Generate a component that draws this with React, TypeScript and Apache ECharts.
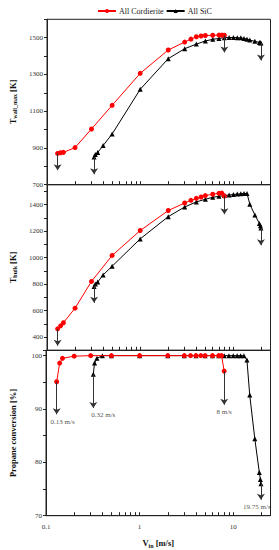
import React, { useEffect, useRef } from 'react';
import * as echarts from 'echarts';

// ---- Data ----
const xCordierite = [0.13, 0.14, 0.15, 0.2, 0.3, 0.5, 1, 2, 3, 3.5, 4, 4.5, 5, 6, 7, 7.5, 8];
const wallCordierite = [870, 874, 876, 902, 1003, 1132, 1306, 1433, 1476, 1492, 1505, 1509, 1512, 1513, 1514, 1514, 1513];
const bulkCordierite = [462, 485, 508, 618, 820, 1016, 1204, 1355, 1412, 1432, 1447, 1457, 1468, 1478, 1485, 1487, 1465];
const convCordierite = [95.1, 98.6, 99.5, 99.9, 100, 100, 100, 100, 100, 100, 100, 100, 100, 100, 100, 100, 97.1];

const xSiC = [0.32, 0.33, 0.35, 0.4, 0.5, 1, 2, 3, 4, 5, 6, 7, 8, 9, 10, 11, 12, 13, 14, 15, 17, 19, 19.5, 19.75];
const wallSiC = [851, 864, 875, 913, 976, 1219, 1386, 1440, 1465, 1482, 1491, 1496, 1500, 1501, 1501, 1500, 1499, 1496, 1492, 1487, 1480, 1474, 1472, 1471];
const bulkSiC = [782, 800, 815, 869, 935, 1141, 1309, 1382, 1420, 1440, 1455, 1462, 1468, 1472, 1476, 1479, 1481, 1483, 1484, 1402, 1322, 1257, 1240, 1224];
const convSiC = [96.5, 98.6, 99.5, 100, 100, 100, 100, 100, 100, 100, 100, 100, 100, 100, 100, 100, 100, 100, 99.2, 92.6, 84.4, 78.1, 76.8, 76.0];

const arrowX = [0.13, 0.32, 8, 19.75];
const wallArrowFrom = [870, 851, 1513, 1471];
const wallArrowTo = [779, 757, 1420, 1376];
const bulkArrowFrom = [462, 782, 1465, 1224];
const bulkArrowTo = [335, 658, 1327, 1093];
const convArrowFrom = [95.1, 96.5, 97.1, 76.0];
const convArrowTo = [89.0, 90.2, 90.8, 73.0];
const arrowLabels = ['0.13 m/s', '0.32 m/s', '8 m/s', '19.75 m/s'];

const xMajorTicks = [0.1, 1, 10];
const xAllTicks = [0.1, 0.2, 0.3, 0.4, 0.5, 0.6, 0.7, 0.8, 0.9, 1, 2, 3, 4, 5, 6, 7, 8, 9, 10, 20];

const FONT = '"Liberation Serif", "Times New Roman", serif';

export default function App() {
  const ref = useRef<HTMLDivElement>(null);
  useEffect(() => {
    document.body.style.margin = '0';
    const chart = echarts.init(ref.current!, null, { renderer: 'svg' });

    const labelDx = [6, 10, 0, -4];
    const grids = [
      { left: 40, right: 8.5, top: 19.3, height: 165.4 },
      { left: 40, right: 8.5, top: 184.7, height: 165.6 },
      { left: 40, right: 8.5, top: 350.3, height: 165.4 },
    ].map((g) => ({ ...g, show: true, borderColor: '#222', borderWidth: 1, backgroundColor: 'transparent' }));

    const xAxes = [0, 1, 2].map((i) => ({
      type: 'log',
      logBase: 10,
      gridIndex: i,
      min: 0.1,
      max: 25,
      axisLine: { show: true, lineStyle: { color: '#222', width: 1 } },
      axisTick: { show: true, inside: true, length: 3.5, lineStyle: { color: '#222' }, customValues: xAllTicks },
      axisLabel: {
        show: i === 2,
        customValues: xMajorTicks,
        fontFamily: FONT,
        fontSize: 7,
        color: '#333',
        margin: 8,
        formatter: (v: number) => String(v),
      },
      splitLine: { show: false },
      name: i === 2 ? '{m|V}{s|in}{m| [m/s]}' : '',
      nameLocation: 'middle',
      nameGap: 22,
      nameTextStyle: {
        fontFamily: FONT,
        rich: {
          m: { fontSize: 8.5, fontWeight: 'bold', fontFamily: FONT, color: '#111' },
          s: { fontSize: 6, fontWeight: 'bold', fontFamily: FONT, color: '#111', padding: [5, 0, 0, 0] },
        },
      },
    }));

    const yCommon = {
      type: 'value',
      nameLocation: 'middle',
      nameGap: 29,
      axisLine: { show: true, lineStyle: { color: '#222', width: 1 } },
      axisTick: { show: true, inside: false, length: 3, lineStyle: { color: '#222' } },
      splitLine: { show: false },
      nameTextStyle: {
        fontFamily: FONT,
        rich: {
          m: { fontSize: 8.5, fontWeight: 'bold', fontFamily: FONT, color: '#111' },
          s: { fontSize: 6, fontWeight: 'bold', fontFamily: FONT, color: '#111', padding: [5, 0, 0, 0] },
        },
      },
    };
    const yLabel = { fontFamily: FONT, fontSize: 7, color: '#333', margin: 4 };

    const yAxes = [
      {
        ...yCommon,
        gridIndex: 0,
        min: 700,
        max: 1600,
        interval: 100,
        name: '{m|T}{s|wall_max}{m| [K]}',
        axisLabel: { ...yLabel, formatter: (v: number) => (v % 200 === 100 && v < 1600 ? String(v) : '') },
      },
      {
        ...yCommon,
        gridIndex: 1,
        min: 300,
        max: 1550,
        interval: 100,
        name: '{m|T}{s|bulk}{m| [K]}',
        axisLabel: { ...yLabel, formatter: (v: number) => (v % 200 === 0 && v <= 1400 ? String(v) : '') },
      },
      {
        ...yCommon,
        gridIndex: 2,
        min: 70,
        max: 101,
        interval: 5,
        name: '{m|Propane conversion [%]}',
        axisLabel: { ...yLabel, formatter: (v: number) => (v % 10 === 0 && v <= 100 ? String(v) : '') },
      },
    ];

    const panels = [
      { c: wallCordierite, s: wallSiC, from: wallArrowFrom, to: wallArrowTo },
      { c: bulkCordierite, s: bulkSiC, from: bulkArrowFrom, to: bulkArrowTo },
      { c: convCordierite, s: convSiC, from: convArrowFrom, to: convArrowTo },
    ];

    const series: any[] = [];
    panels.forEach((p, i) => {
      series.push({
        name: 'All SiC',
        type: 'line',
        xAxisIndex: i,
        yAxisIndex: i,
        data: xSiC.map((x, k) => [x, p.s[k]]),
        symbol: 'triangle',
        symbolSize: 5,
        lineStyle: { color: '#000', width: 1 },
        itemStyle: { color: '#000' },
        z: 3,
      });
      series.push({
        name: 'All Cordierite',
        type: 'line',
        xAxisIndex: i,
        yAxisIndex: i,
        data: xCordierite.map((x, k) => [x, p.c[k]]),
        symbol: 'circle',
        symbolSize: 5,
        lineStyle: { color: '#ff0000', width: 1 },
        itemStyle: { color: '#ff0000' },
        z: 4,
      });
      series.push({
        name: 'arrows' + i,
        type: 'scatter',
        xAxisIndex: i,
        yAxisIndex: i,
        symbolSize: 0,
        data:
          i === 2
            ? arrowX.map((x, k) => ({
                value: [x, p.to[k]],
                label: {
                  show: true,
                  position: 'bottom',
                  distance: 4,
                  offset: [labelDx[k], 0],
                  formatter: arrowLabels[k],
                  fontFamily: FONT,
                  fontSize: 7,
                  color: '#222',
                },
              }))
            : [],
        markLine: {
          silent: true,
          animation: false,
          symbol: ['none', 'arrow'],
          symbolSize: 6,
          label: { show: false },
          lineStyle: { color: '#333', width: 1, type: 'solid' },
          data: arrowX.map((x, k) => [{ coord: [x, p.from[k]] }, { coord: [x, p.to[k]] }]),
        },
        z: 2,
      });
    });

    chart.setOption({
      animation: false,
      textStyle: { fontFamily: FONT },
      legend: {
        data: ['All Cordierite', 'All SiC'],
        top: 2,
        left: 92,
        itemWidth: 18,
        itemHeight: 5,
        itemGap: 2,
        textStyle: { fontFamily: FONT, fontSize: 8, color: '#222', padding: [0, 0, 0, -2] },
      },
      grid: grids,
      xAxis: xAxes,
      yAxis: yAxes,
      series,
    });
    return () => chart.dispose();
  }, []);
  return <div ref={ref} style={{ width: 279, height: 550, position: 'absolute', left: 0, top: 0 }} />;
}
